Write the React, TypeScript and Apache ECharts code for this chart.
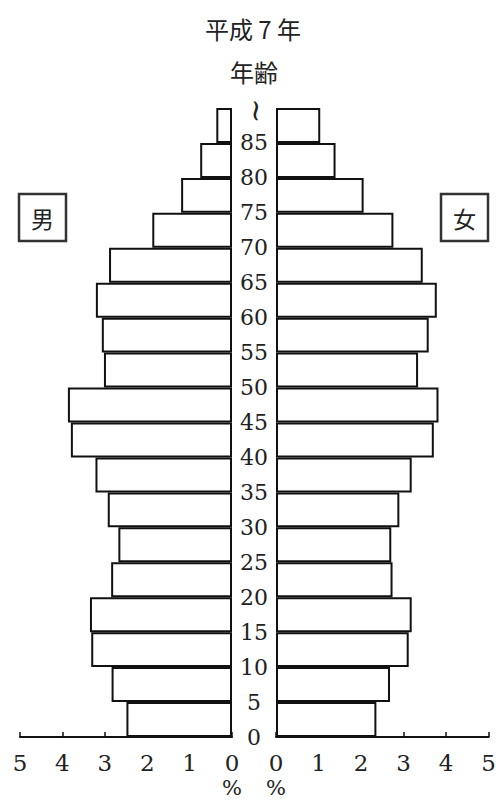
import React, { useEffect, useRef } from "react";
import * as echarts from "echarts";

const ageGroups = ["0-4", "5-9", "10-14", "15-19", "20-24", "25-29", "30-34", "35-39", "40-44", "45-49", "50-54", "55-59", "60-64", "65-69", "70-74", "75-79", "80-84", "85+"];
const maleValues = [2.49, 2.84, 3.32, 3.35, 2.85, 2.68, 2.93, 3.22, 3.80, 3.87, 3.02, 3.07, 3.21, 2.90, 1.88, 1.20, 0.75, 0.37];
const femaleValues = [2.36, 2.68, 3.12, 3.19, 2.74, 2.71, 2.90, 3.19, 3.71, 3.82, 3.34, 3.59, 3.78, 3.45, 2.76, 2.06, 1.40, 1.04];
const ageTickLabels = ["0", "5", "10", "15", "20", "25", "30", "35", "40", "45", "50", "55", "60", "65", "70", "75", "80", "85", ""];
const titleText = "平成 7 年";
const ageTitle = "年齢";
const maleLabel = "男";
const femaleLabel = "女";
const unitLabel = "%";

const SERIF = "DejaVu Serif";
const CJK = "Noto Sans CJK JP";
const INK = "#111";

export default function App() {
  const ref = useRef<HTMLDivElement>(null);
  useEffect(() => {
    if (!ref.current) return;
    const chart = echarts.init(ref.current, null, { renderer: "svg" });
    const top = 108;
    const bottom = 65;
    const xAxisCommon = {
      type: "value",
      min: 0,
      max: 5,
      interval: 1,
      axisLine: { show: true, lineStyle: { color: INK, width: 2 } },
      axisTick: { show: true, inside: true, length: 5, lineStyle: { color: INK, width: 1.5 } },
      splitLine: { show: false },
      axisLabel: { fontFamily: SERIF, fontSize: 23, color: "#222", margin: 14, showMaxLabel: true, showMinLabel: true },
    };
    const barStyle = { color: "#fff", borderColor: INK, borderWidth: 2 };
    const option: any = {
      animation: false,
      backgroundColor: "#fff",
      textStyle: { fontFamily: SERIF },
      grid: [
        { left: 20, right: 499 - 232, top, bottom },
        { left: 276, right: 499 - 489, top, bottom },
        { left: 232, right: 499 - 276, top, bottom },
      ],
      xAxis: [
        { ...xAxisCommon, gridIndex: 0, inverse: true },
        { ...xAxisCommon, gridIndex: 1 },
        { type: "value", gridIndex: 2, show: false, min: 0, max: 1 },
      ],
      yAxis: [
        { type: "category", gridIndex: 0, data: ageGroups, show: false },
        { type: "category", gridIndex: 1, data: ageGroups, show: false },
        {
          type: "category",
          gridIndex: 2,
          data: ageTickLabels,
          boundaryGap: false,
          axisLine: { show: false },
          axisTick: { show: false },
          splitLine: { show: false },
          axisLabel: {
            show: true,
            interval: 0,
            align: "center",
            verticalAlign: "middle",
            margin: -22,
            fontFamily: SERIF,
            fontSize: 22,
            color: "#222",
          },
        },
      ],
      series: [
        {
          type: "bar",
          xAxisIndex: 0,
          yAxisIndex: 0,
          data: maleValues,
          barCategoryGap: "0%",
          itemStyle: barStyle,
          silent: true,
        },
        {
          type: "bar",
          xAxisIndex: 1,
          yAxisIndex: 1,
          data: femaleValues,
          barCategoryGap: "0%",
          itemStyle: barStyle,
          silent: true,
        },
      ],
      graphic: [
        {
          type: "text",
          x: 253,
          y: 28,
          style: { text: titleText, fontFamily: CJK, fontSize: 24, fill: "#222", align: "center", verticalAlign: "middle" },
        },
        {
          type: "text",
          x: 254,
          y: 71,
          style: { text: ageTitle, fontFamily: CJK, fontSize: 24, fill: "#222", align: "center", verticalAlign: "middle" },
        },
        {
          type: "text",
          x: 254,
          y: 111,
          rotation: Math.PI / 2,
          style: { text: "~", fontFamily: SERIF, fontSize: 30, fill: "#222", align: "center", verticalAlign: "middle" },
        },
        {
          type: "rect",
          shape: { x: 19, y: 194, width: 47, height: 47 },
          style: { fill: "#fff", stroke: "#333", lineWidth: 2.5 },
        },
        {
          type: "text",
          x: 42.5,
          y: 217.5,
          style: { text: maleLabel, fontFamily: CJK, fontSize: 23, fill: "#222", align: "center", verticalAlign: "middle" },
        },
        {
          type: "rect",
          shape: { x: 441, y: 194, width: 47, height: 47 },
          style: { fill: "#fff", stroke: "#333", lineWidth: 2.5 },
        },
        {
          type: "text",
          x: 464.5,
          y: 217.5,
          style: { text: femaleLabel, fontFamily: CJK, fontSize: 23, fill: "#222", align: "center", verticalAlign: "middle" },
        },
        {
          type: "text",
          x: 232,
          y: 788,
          style: { text: unitLabel, fontFamily: SERIF, fontSize: 21, fill: "#222", align: "center", verticalAlign: "middle" },
        },
        {
          type: "text",
          x: 276,
          y: 788,
          style: { text: unitLabel, fontFamily: SERIF, fontSize: 21, fill: "#222", align: "center", verticalAlign: "middle" },
        },
      ],
    };
    chart.setOption(option);
    return () => chart.dispose();
  }, []);
  return (
    <div
      ref={ref}
      style={{ position: "fixed", left: 0, top: 0, width: 499, height: 802, background: "#fff" }}
    />
  );
}
